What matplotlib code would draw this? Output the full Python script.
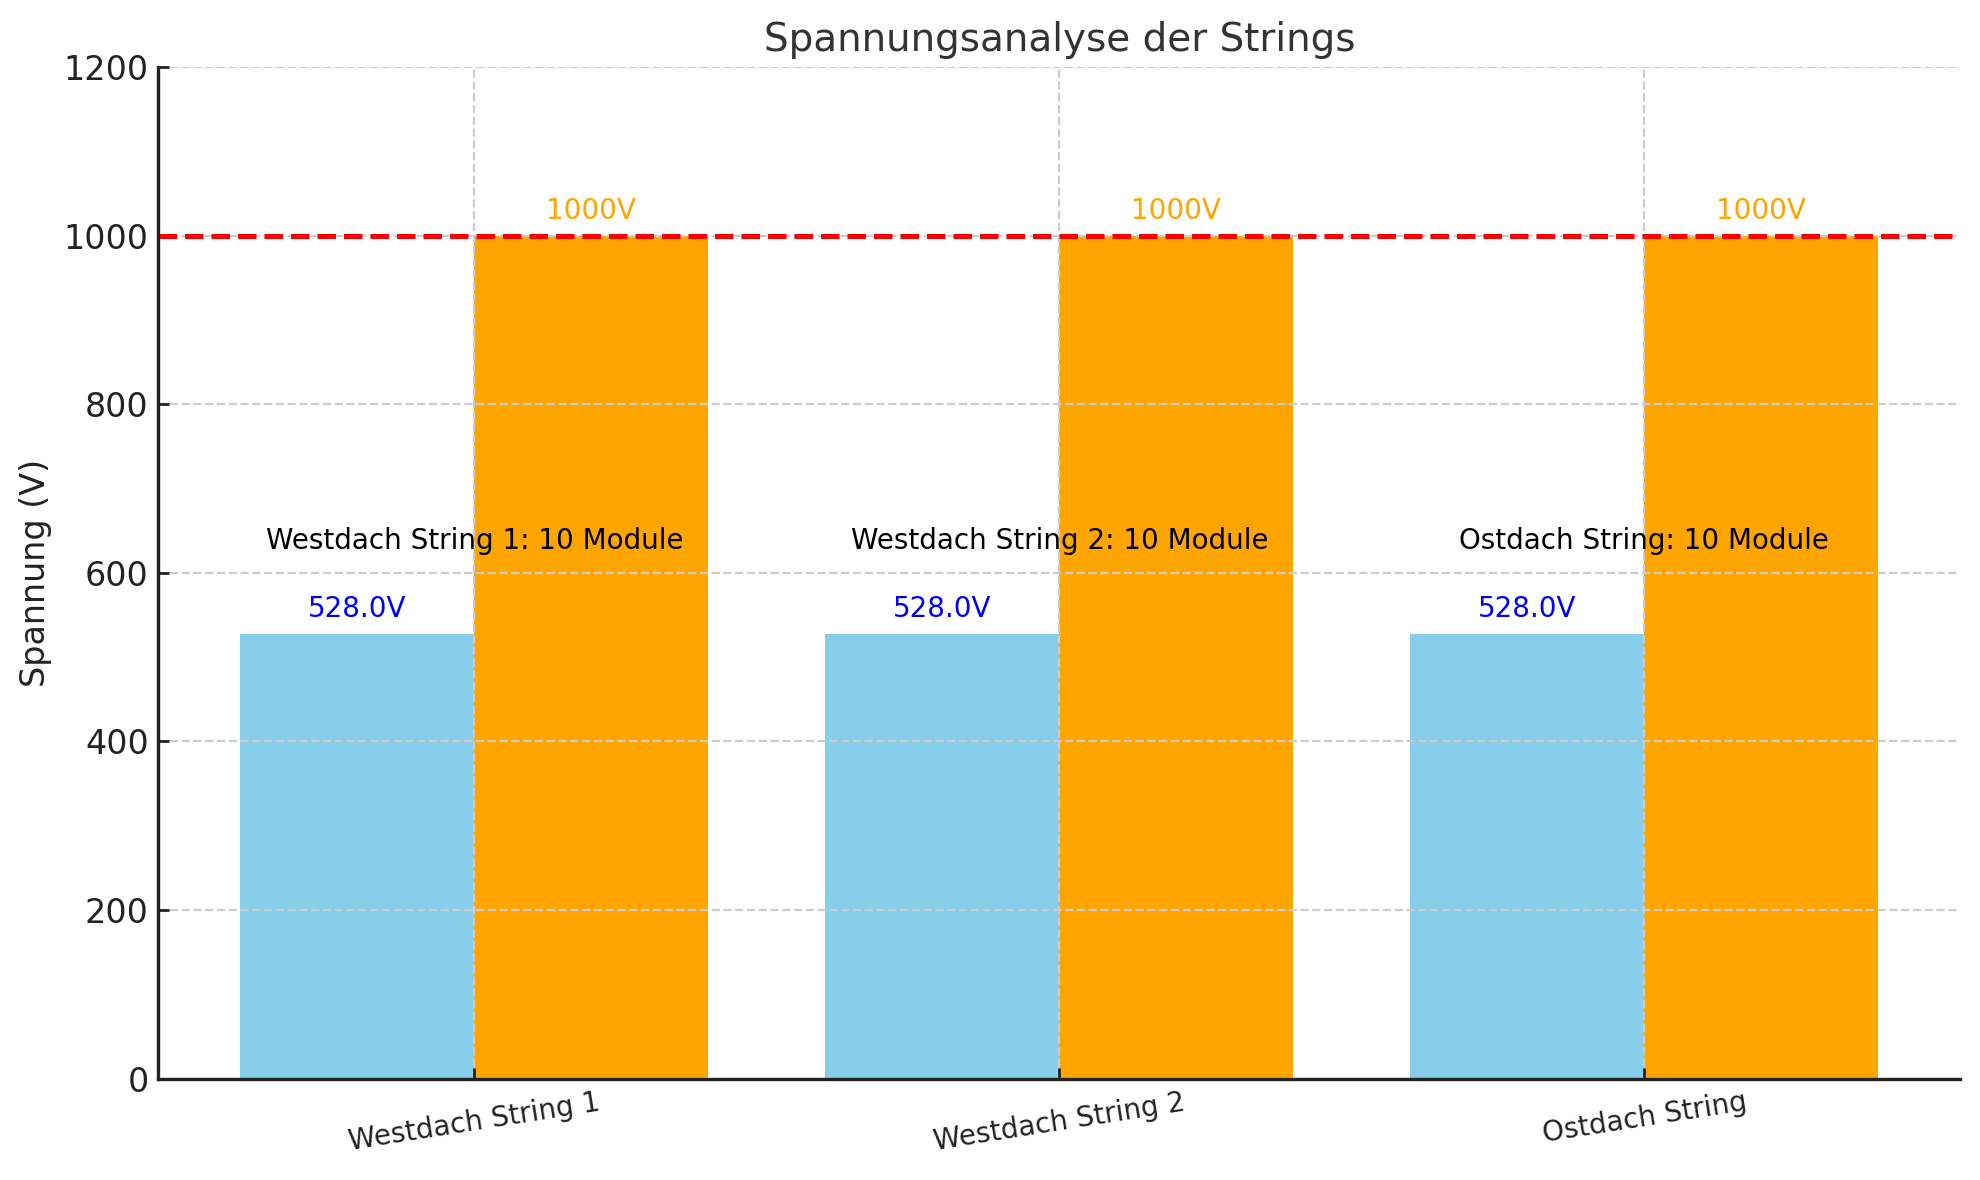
import numpy as np
import matplotlib.pyplot as plt

# --- data ---
strings = ["Westdach String 1", "Westdach String 2", "Ostdach String"]
string_voltage = [528.0, 528.0, 528.0]
max_voltage = [1000, 1000, 1000]
modules = [10, 10, 10]
limit = 1000

x = np.arange(len(strings))
width = 0.4

fig, ax = plt.subplots(figsize=(9.9, 5.9), dpi=200)
fig.subplots_adjust(left=0.080, right=0.990, top=0.943, bottom=0.086)

ax.bar(x - width / 2, string_voltage, width, color="skyblue", zorder=1)
ax.bar(x + width / 2, max_voltage, width, color="orange", zorder=1)
ax.axhline(limit, color="red", linestyle="--", linewidth=1.8, zorder=3)

# labels on the bars
for i in range(len(strings)):
    ax.text(x[i] - width / 2, string_voltage[i] + 13, f"{string_voltage[i]:.1f}V",
            ha="center", va="bottom", color="blue", fontsize=10)
    ax.text(x[i] + width / 2, max_voltage[i] + 13, f"{max_voltage[i]}V",
            ha="center", va="bottom", color="orange", fontsize=10)
    ax.text(x[i], string_voltage[i] + 93, f"{strings[i]}: {modules[i]} Module",
            ha="center", va="bottom", color="black", fontsize=10)

ax.set_xticks(x)
ax.set_xticklabels(strings, rotation=9, fontsize=10, color="#222222")
ax.set_ylim(0, 1200)
ax.tick_params(direction="in", length=4, width=1, color="#222222")
ax.tick_params(axis="y", labelsize=12, labelcolor="#222222")
ax.set_ylabel("Spannung (V)", fontsize=12, color="#222222")
ax.set_title("Spannungsanalyse der Strings", fontsize=14, color="#333333")

ax.grid(True, linestyle="--", color="#cccccc", linewidth=0.8, zorder=2)
ax.set_axisbelow(False)
for s in ["top", "right"]:
    ax.spines[s].set_visible(False)
for s in ["left", "bottom"]:
    ax.spines[s].set_color("#222222")
    ax.spines[s].set_linewidth(1.2)
    ax.spines[s].set_zorder(4)

fig.savefig("out.png")
